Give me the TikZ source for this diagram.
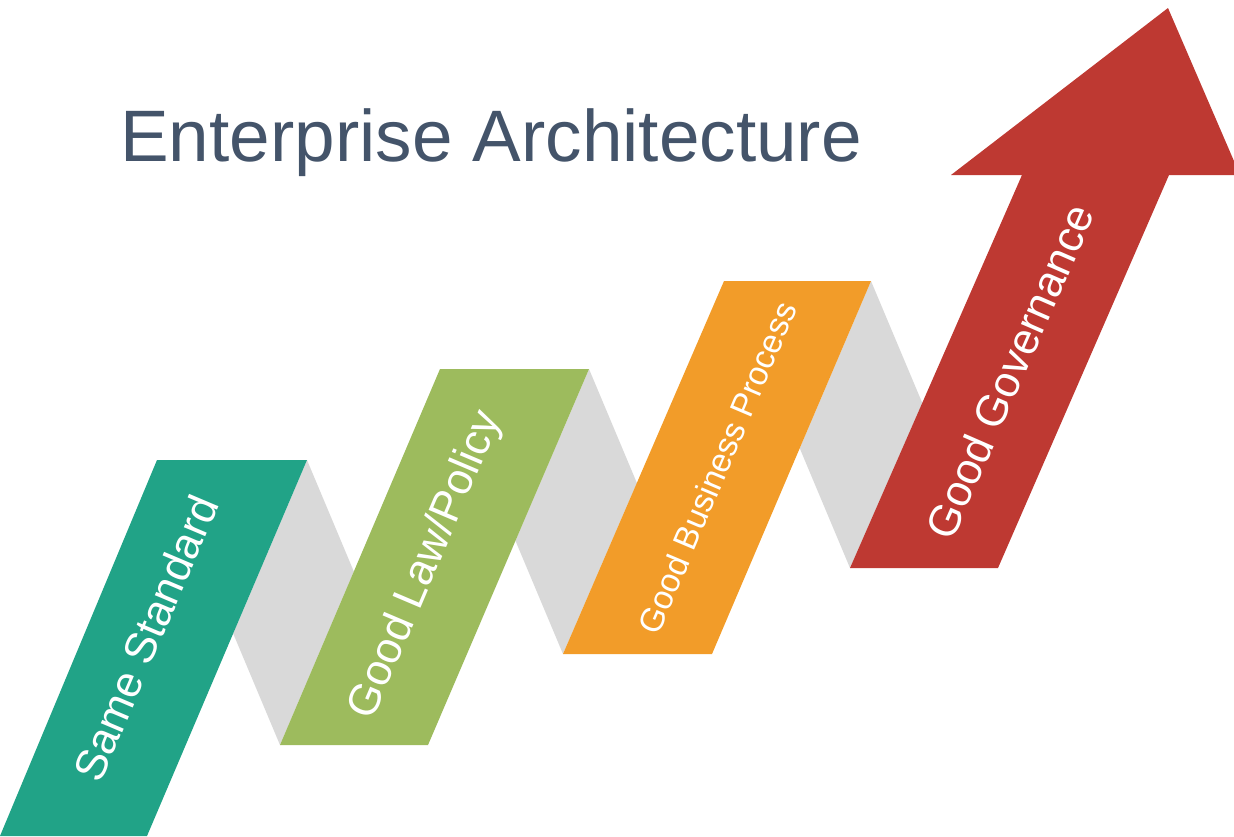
\documentclass[tikz,border=0pt]{standalone}
\usepackage{fontspec}
\setmainfont{Liberation Sans}
\usepackage{tikz}
\usetikzlibrary{calc}
\definecolor{eateal}{RGB}{33,163,135}
\definecolor{eagreen}{RGB}{157,187,93}
\definecolor{eaorange}{RGB}{242,156,41}
\definecolor{eared}{RGB}{190,57,50}
\definecolor{eafold}{RGB}{217,217,217}
\definecolor{eatitle}{RGB}{68,84,106}

\begin{document}
\begin{tikzpicture}[x=0.02cm,y=-0.02cm,
  fold/.style={fill=eafold,draw=none},
  lbl/.style={text=white,font=\fontsize{25}{30}\selectfont,inner sep=0pt},
  ttl/.style={text=eatitle,font=\fontsize{41.5}{48}\selectfont,inner sep=0pt}]
  \useasboundingbox (0,0) rectangle (1234,836);
  % step corners: bl, br, tr, tl
  \coordinate (s1bl) at (0,836);   \coordinate (s1br) at (147,836);
  \coordinate (s1tr) at (307,460); \coordinate (s1tl) at (157,460);
  \coordinate (s2bl) at (280,745); \coordinate (s2br) at (428,745);
  \coordinate (s2tr) at (589,369); \coordinate (s2tl) at (440,369);
  \coordinate (s3bl) at (563,654); \coordinate (s3br) at (712,654);
  \coordinate (s3tr) at (871,281); \coordinate (s3tl) at (724,281);
  \coordinate (s4bl) at (850,568); \coordinate (s4br) at (998,568);
  \coordinate (s4tr) at (1169,175); \coordinate (s4tl) at (1022,175);
  \coordinate (hdl) at (951,175); \coordinate (hdtip) at (1168,8); \coordinate (hdr) at (1240,175);
  % grey folds (behind)
  \coordinate (f1a) at ($(s1tr)+(42,100)$); \coordinate (f1b) at ($(s2bl)-(42,100)$);
  \coordinate (f2a) at ($(s2tr)+(42,100)$); \coordinate (f2b) at ($(s3bl)-(42,100)$);
  \coordinate (f3a) at ($(s3tr)+(42,100)$); \coordinate (f3b) at ($(s4bl)-(42,100)$);
  \fill[fold] (s1tr) -- (intersection of s1tr--f1a and s2bl--s2tl) -- (s2bl)
    -- (intersection of s2bl--f1b and s1br--s1tr) -- cycle;
  \fill[fold] (s2tr) -- (intersection of s2tr--f2a and s3bl--s3tl) -- (s3bl)
    -- (intersection of s3bl--f2b and s2br--s2tr) -- cycle;
  \fill[fold] (s3tr) -- (intersection of s3tr--f3a and s4bl--s4tl) -- (s4bl)
    -- (intersection of s4bl--f3b and s3br--s3tr) -- cycle;
  % steps
  \fill[eateal] (s1bl) -- (s1br) -- (s1tr) -- (s1tl) -- cycle;
  \fill[eagreen] (s2bl) -- (s2br) -- (s2tr) -- (s2tl) -- cycle;
  \fill[eaorange] (s3bl) -- (s3br) -- (s3tr) -- (s3tl) -- cycle;
  \fill[eared] (s4bl) -- (s4br) -- (s4tr) -- (hdr) -- (hdtip) -- (hdl) -- (s4tl) -- cycle;
  % labels
  \node[lbl,rotate=67] (std) at ($(s1bl)!.5!(s1tr)+(-8,-10)$) {Same Standard};
  \node[lbl,rotate=67] (law) at ($(s2bl)!.5!(s2tr)+(-8,8)$) {Good Law/Policy};
  \node[lbl,rotate=67,font=\fontsize{19}{23}\selectfont] (bpr) at ($(s3bl)!.5!(s3tr)$) {Good Business Process};
  \node[lbl,rotate=66.4] (gov) at ($(s4bl)!.5!(s4tr)$) {Good Governance};
  \node[ttl,anchor=base west] (title) at (120,161) {Enterprise Architecture};
\end{tikzpicture}
\end{document}
